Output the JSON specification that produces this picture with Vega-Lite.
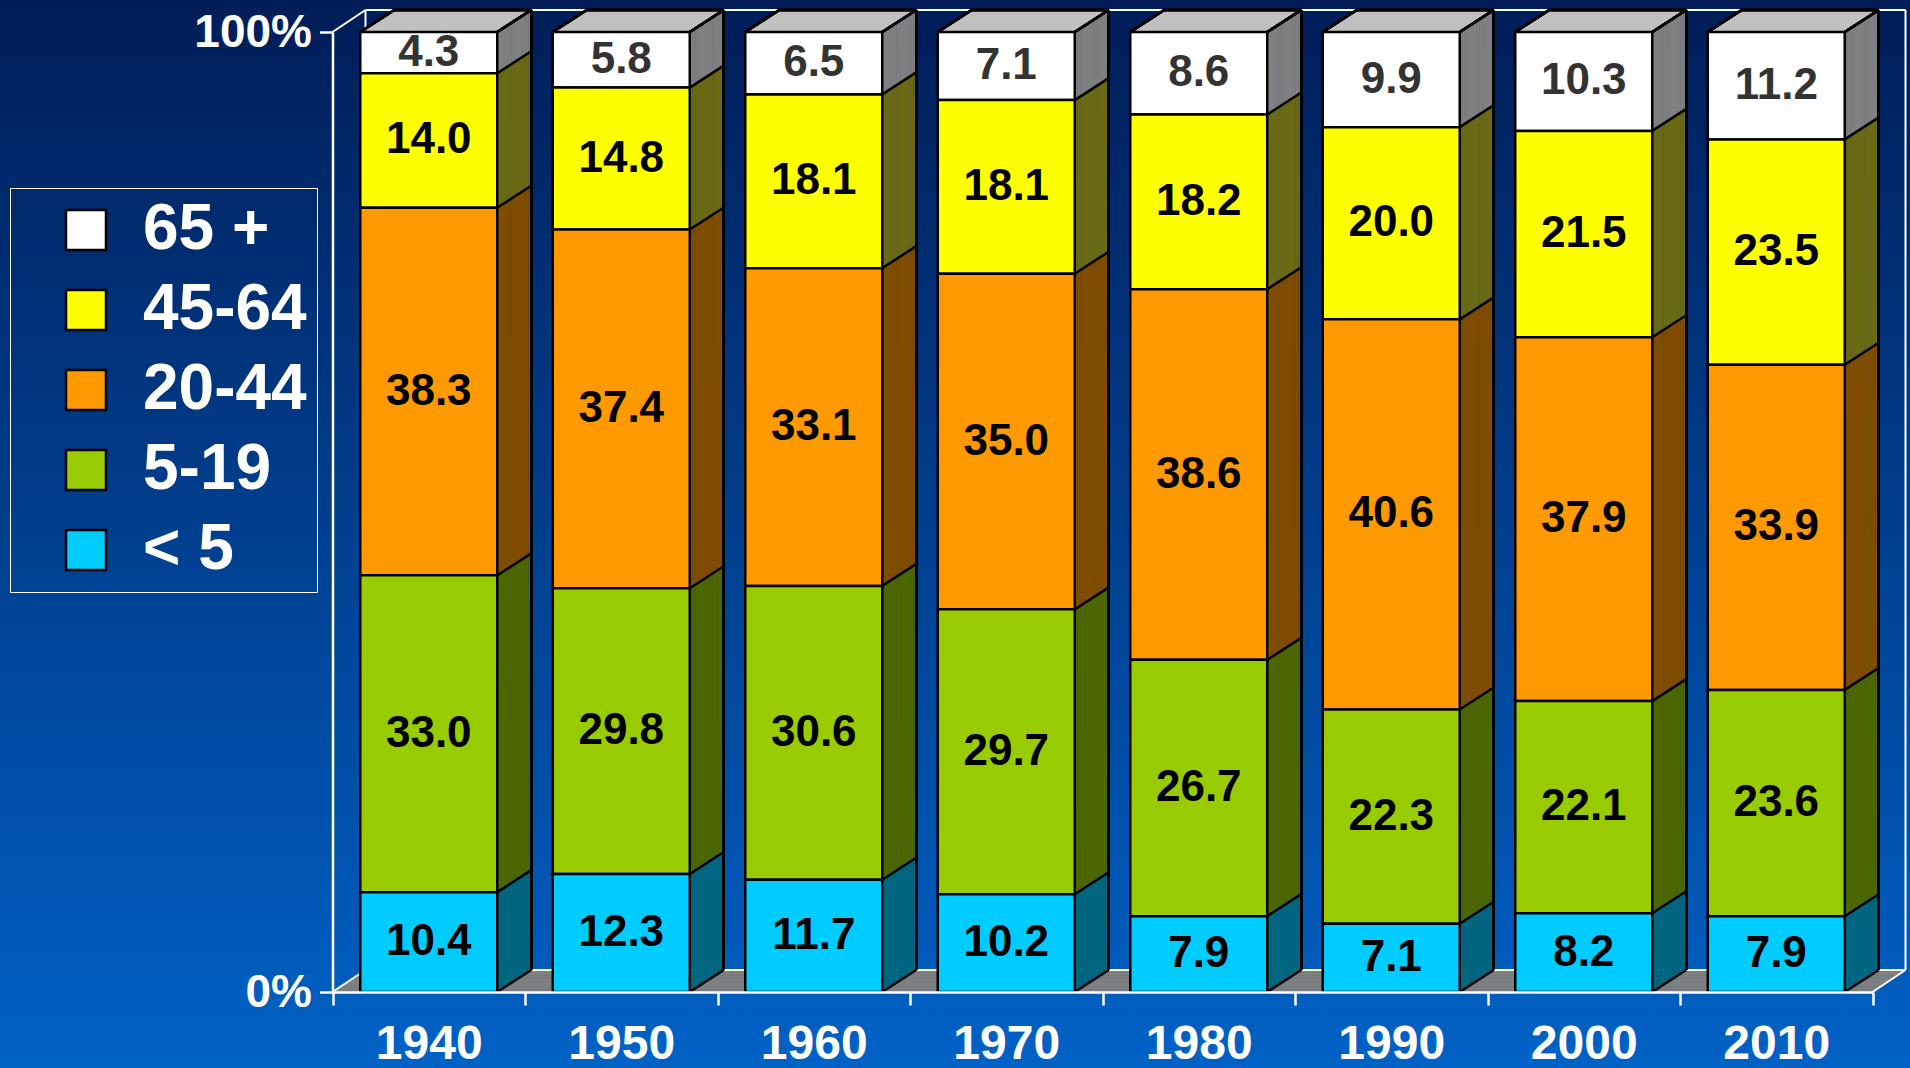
{
  "$schema": "https://vega.github.io/schema/vega-lite/v6.json",
  "width": 1910,
  "height": 1068,
  "padding": 0,
  "autosize": {"type": "none"},
  "config": {"view": {"stroke": null}, "font": "Liberation Sans"},
  "data": {"values": [
    {"year": "1940", "group": "65 +", "age": 65, "pct": 4.3},
    {"year": "1940", "group": "45-64", "age": 45, "pct": 14.0},
    {"year": "1940", "group": "20-44", "age": 20, "pct": 38.3},
    {"year": "1940", "group": "5-19", "age": 5, "pct": 33.0},
    {"year": "1940", "group": "< 5", "age": 0, "pct": 10.4},
    {"year": "1950", "group": "65 +", "age": 65, "pct": 5.8},
    {"year": "1950", "group": "45-64", "age": 45, "pct": 14.8},
    {"year": "1950", "group": "20-44", "age": 20, "pct": 37.4},
    {"year": "1950", "group": "5-19", "age": 5, "pct": 29.8},
    {"year": "1950", "group": "< 5", "age": 0, "pct": 12.3},
    {"year": "1960", "group": "65 +", "age": 65, "pct": 6.5},
    {"year": "1960", "group": "45-64", "age": 45, "pct": 18.1},
    {"year": "1960", "group": "20-44", "age": 20, "pct": 33.1},
    {"year": "1960", "group": "5-19", "age": 5, "pct": 30.6},
    {"year": "1960", "group": "< 5", "age": 0, "pct": 11.7},
    {"year": "1970", "group": "65 +", "age": 65, "pct": 7.1},
    {"year": "1970", "group": "45-64", "age": 45, "pct": 18.1},
    {"year": "1970", "group": "20-44", "age": 20, "pct": 35.0},
    {"year": "1970", "group": "5-19", "age": 5, "pct": 29.7},
    {"year": "1970", "group": "< 5", "age": 0, "pct": 10.2},
    {"year": "1980", "group": "65 +", "age": 65, "pct": 8.6},
    {"year": "1980", "group": "45-64", "age": 45, "pct": 18.2},
    {"year": "1980", "group": "20-44", "age": 20, "pct": 38.6},
    {"year": "1980", "group": "5-19", "age": 5, "pct": 26.7},
    {"year": "1980", "group": "< 5", "age": 0, "pct": 7.9},
    {"year": "1990", "group": "65 +", "age": 65, "pct": 9.9},
    {"year": "1990", "group": "45-64", "age": 45, "pct": 20.0},
    {"year": "1990", "group": "20-44", "age": 20, "pct": 40.6},
    {"year": "1990", "group": "5-19", "age": 5, "pct": 22.3},
    {"year": "1990", "group": "< 5", "age": 0, "pct": 7.1},
    {"year": "2000", "group": "65 +", "age": 65, "pct": 10.3},
    {"year": "2000", "group": "45-64", "age": 45, "pct": 21.5},
    {"year": "2000", "group": "20-44", "age": 20, "pct": 37.9},
    {"year": "2000", "group": "5-19", "age": 5, "pct": 22.1},
    {"year": "2000", "group": "< 5", "age": 0, "pct": 8.2},
    {"year": "2010", "group": "65 +", "age": 65, "pct": 11.2},
    {"year": "2010", "group": "45-64", "age": 45, "pct": 23.5},
    {"year": "2010", "group": "20-44", "age": 20, "pct": 33.9},
    {"year": "2010", "group": "5-19", "age": 5, "pct": 23.6},
    {"year": "2010", "group": "< 5", "age": 0, "pct": 7.9}
  ]},
  "layer": [
    {
      "data": {"values": [{}]},
      "mark": {"type": "rect", "color": {"gradient": "linear", "x1": 0, "y1": 0, "x2": 0, "y2": 1, "stops": [{"offset": 0, "color": "#001D58"}, {"offset": 1, "color": "#0062C6"}]}},
      "encoding": {}
    },
    {
      "data": {"values": [{}]},
      "layer": [
        {"mark": {"type": "rule", "strokeWidth": 3, "color": "#808080", "xOffset": -94.25, "x2Offset": 98.25, "yOffset": -1.375}, "encoding": {"x": {"datum": "1940", "type": "nominal"}, "x2": {"datum": "2010"}, "y": {"datum": 0, "type": "quantitative"}}},
        {"mark": {"type": "rule", "strokeWidth": 3, "color": "#808080", "xOffset": -90.25, "x2Offset": 102.25, "yOffset": -4.125}, "encoding": {"x": {"datum": "1940", "type": "nominal"}, "x2": {"datum": "2010"}, "y": {"datum": 0, "type": "quantitative"}}},
        {"mark": {"type": "rule", "strokeWidth": 3, "color": "#808080", "xOffset": -86.25, "x2Offset": 106.25, "yOffset": -6.875}, "encoding": {"x": {"datum": "1940", "type": "nominal"}, "x2": {"datum": "2010"}, "y": {"datum": 0, "type": "quantitative"}}},
        {"mark": {"type": "rule", "strokeWidth": 3, "color": "#808080", "xOffset": -82.25, "x2Offset": 110.25, "yOffset": -9.625}, "encoding": {"x": {"datum": "1940", "type": "nominal"}, "x2": {"datum": "2010"}, "y": {"datum": 0, "type": "quantitative"}}},
        {"mark": {"type": "rule", "strokeWidth": 3, "color": "#808080", "xOffset": -78.25, "x2Offset": 114.25, "yOffset": -12.375}, "encoding": {"x": {"datum": "1940", "type": "nominal"}, "x2": {"datum": "2010"}, "y": {"datum": 0, "type": "quantitative"}}},
        {"mark": {"type": "rule", "strokeWidth": 3, "color": "#808080", "xOffset": -74.25, "x2Offset": 118.25, "yOffset": -15.125}, "encoding": {"x": {"datum": "1940", "type": "nominal"}, "x2": {"datum": "2010"}, "y": {"datum": 0, "type": "quantitative"}}},
        {"mark": {"type": "rule", "strokeWidth": 3, "color": "#808080", "xOffset": -70.25, "x2Offset": 122.25, "yOffset": -17.875}, "encoding": {"x": {"datum": "1940", "type": "nominal"}, "x2": {"datum": "2010"}, "y": {"datum": 0, "type": "quantitative"}}},
        {"mark": {"type": "rule", "strokeWidth": 3, "color": "#808080", "xOffset": -66.25, "x2Offset": 126.25, "yOffset": -20.625}, "encoding": {"x": {"datum": "1940", "type": "nominal"}, "x2": {"datum": "2010"}, "y": {"datum": 0, "type": "quantitative"}}},
        {"mark": {"type": "rule", "strokeWidth": 2, "color": "white", "xOffset": -63.25, "x2Offset": 129.25, "yOffset": -22}, "encoding": {"x": {"datum": "1940", "type": "nominal"}, "x2": {"datum": "2010"}, "y": {"datum": 1, "type": "quantitative"}}},
        {"mark": {"type": "rule", "strokeWidth": 2, "color": "white", "xOffset": -63.25, "x2Offset": 129.25, "yOffset": -22}, "encoding": {"x": {"datum": "1940", "type": "nominal"}, "x2": {"datum": "2010"}, "y": {"datum": 0, "type": "quantitative"}}},
        {"mark": {"type": "rule", "strokeWidth": 2, "color": "white", "xOffset": 129.25, "yOffset": -22, "y2Offset": -22}, "encoding": {"x": {"datum": "2010", "type": "nominal"}, "y": {"datum": 0, "type": "quantitative"}, "y2": {"datum": 1}}},
        {"mark": {"type": "rule", "strokeWidth": 2, "color": "white", "xOffset": -63.25, "yOffset": -22, "y2Offset": -22}, "encoding": {"x": {"datum": "1940", "type": "nominal"}, "y": {"datum": 0, "type": "quantitative"}, "y2": {"datum": 1}}},
        {"mark": {"type": "rule", "strokeWidth": 2, "color": "white", "xOffset": -96.25, "x2Offset": -63.25, "y2Offset": -22}, "encoding": {"x": {"datum": "1940", "type": "nominal"}, "x2": {"datum": "1940"}, "y": {"datum": 1, "type": "quantitative"}, "y2": {"datum": 1}}},
        {"mark": {"type": "rule", "strokeWidth": 2, "color": "white", "xOffset": -96.25, "x2Offset": -63.25, "y2Offset": -22}, "encoding": {"x": {"datum": "1940", "type": "nominal"}, "x2": {"datum": "1940"}, "y": {"datum": 0, "type": "quantitative"}, "y2": {"datum": 0}}},
        {"mark": {"type": "rule", "strokeWidth": 2, "color": "white", "xOffset": 96.25, "x2Offset": 129.25, "y2Offset": -22}, "encoding": {"x": {"datum": "2010", "type": "nominal"}, "x2": {"datum": "2010"}, "y": {"datum": 0, "type": "quantitative"}, "y2": {"datum": 0}}}
      ]
    },
    {
      "transform": [{"stack": "pct", "groupby": ["year"], "sort": [{"field": "age", "order": "ascending"}], "offset": "normalize", "as": ["s0", "s1"]}],
      "encoding": {
        "x": {"field": "year", "type": "nominal"},
        "y": {"field": "s0", "type": "quantitative"},
        "y2": {"field": "s1"}
      },
      "layer": [
        {"mark": {"type": "rule", "strokeWidth": 3.2, "xOffset": 69.92, "yOffset": -0.92, "y2Offset": -0.92}, "encoding": {"stroke": {"field": "age", "type": "nominal", "scale": {"domain": [65, 45, 20, 5, 0], "range": ["#808080", "#6A6A14", "#804C00", "#4C6600", "#006680"]}, "legend": null}}},
        {"mark": {"type": "rule", "strokeWidth": 3.2, "xOffset": 72.75, "yOffset": -2.75, "y2Offset": -2.75}, "encoding": {"stroke": {"field": "age", "type": "nominal", "legend": null}}},
        {"mark": {"type": "rule", "strokeWidth": 3.2, "xOffset": 75.58, "yOffset": -4.58, "y2Offset": -4.58}, "encoding": {"stroke": {"field": "age", "type": "nominal", "legend": null}}},
        {"mark": {"type": "rule", "strokeWidth": 3.2, "xOffset": 78.42, "yOffset": -6.42, "y2Offset": -6.42}, "encoding": {"stroke": {"field": "age", "type": "nominal", "legend": null}}},
        {"mark": {"type": "rule", "strokeWidth": 3.2, "xOffset": 81.25, "yOffset": -8.25, "y2Offset": -8.25}, "encoding": {"stroke": {"field": "age", "type": "nominal", "legend": null}}},
        {"mark": {"type": "rule", "strokeWidth": 3.2, "xOffset": 84.08, "yOffset": -10.08, "y2Offset": -10.08}, "encoding": {"stroke": {"field": "age", "type": "nominal", "legend": null}}},
        {"mark": {"type": "rule", "strokeWidth": 3.2, "xOffset": 86.92, "yOffset": -11.92, "y2Offset": -11.92}, "encoding": {"stroke": {"field": "age", "type": "nominal", "legend": null}}},
        {"mark": {"type": "rule", "strokeWidth": 3.2, "xOffset": 89.75, "yOffset": -13.75, "y2Offset": -13.75}, "encoding": {"stroke": {"field": "age", "type": "nominal", "legend": null}}},
        {"mark": {"type": "rule", "strokeWidth": 3.2, "xOffset": 92.58, "yOffset": -15.58, "y2Offset": -15.58}, "encoding": {"stroke": {"field": "age", "type": "nominal", "legend": null}}},
        {"mark": {"type": "rule", "strokeWidth": 3.2, "xOffset": 95.42, "yOffset": -17.42, "y2Offset": -17.42}, "encoding": {"stroke": {"field": "age", "type": "nominal", "legend": null}}},
        {"mark": {"type": "rule", "strokeWidth": 3.2, "xOffset": 98.25, "yOffset": -19.25, "y2Offset": -19.25}, "encoding": {"stroke": {"field": "age", "type": "nominal", "legend": null}}},
        {"mark": {"type": "rule", "strokeWidth": 3.2, "xOffset": 101.08, "yOffset": -21.08, "y2Offset": -21.08}, "encoding": {"stroke": {"field": "age", "type": "nominal", "legend": null}}},
        {"mark": {"type": "rule", "strokeWidth": 3, "color": "#C0C0C0", "xOffset": -66.375, "x2Offset": 70.625, "yOffset": -1.375}, "encoding": {"x2": {"field": "year"}, "y": {"datum": 1, "type": "quantitative"}, "y2": null}},
        {"mark": {"type": "rule", "strokeWidth": 3, "color": "#C0C0C0", "xOffset": -62.125, "x2Offset": 74.875, "yOffset": -4.125}, "encoding": {"x2": {"field": "year"}, "y": {"datum": 1, "type": "quantitative"}, "y2": null}},
        {"mark": {"type": "rule", "strokeWidth": 3, "color": "#C0C0C0", "xOffset": -57.875, "x2Offset": 79.125, "yOffset": -6.875}, "encoding": {"x2": {"field": "year"}, "y": {"datum": 1, "type": "quantitative"}, "y2": null}},
        {"mark": {"type": "rule", "strokeWidth": 3, "color": "#C0C0C0", "xOffset": -53.625, "x2Offset": 83.375, "yOffset": -9.625}, "encoding": {"x2": {"field": "year"}, "y": {"datum": 1, "type": "quantitative"}, "y2": null}},
        {"mark": {"type": "rule", "strokeWidth": 3, "color": "#C0C0C0", "xOffset": -49.375, "x2Offset": 87.625, "yOffset": -12.375}, "encoding": {"x2": {"field": "year"}, "y": {"datum": 1, "type": "quantitative"}, "y2": null}},
        {"mark": {"type": "rule", "strokeWidth": 3, "color": "#C0C0C0", "xOffset": -45.125, "x2Offset": 91.875, "yOffset": -15.125}, "encoding": {"x2": {"field": "year"}, "y": {"datum": 1, "type": "quantitative"}, "y2": null}},
        {"mark": {"type": "rule", "strokeWidth": 3, "color": "#C0C0C0", "xOffset": -40.875, "x2Offset": 96.125, "yOffset": -17.875}, "encoding": {"x2": {"field": "year"}, "y": {"datum": 1, "type": "quantitative"}, "y2": null}},
        {"mark": {"type": "rule", "strokeWidth": 3, "color": "#C0C0C0", "xOffset": -36.625, "x2Offset": 100.375, "yOffset": -20.625}, "encoding": {"x2": {"field": "year"}, "y": {"datum": 1, "type": "quantitative"}, "y2": null}},
        {"mark": {"type": "rule", "strokeWidth": 2.5, "color": "black", "xOffset": 68.5, "x2Offset": 102.5, "y2Offset": -22}, "encoding": {"x2": {"field": "year"}, "y2": {"field": "s0"}}},
        {"mark": {"type": "rule", "strokeWidth": 2.5, "color": "black", "xOffset": 68.5, "x2Offset": 102.5, "y2Offset": -22}, "encoding": {"x2": {"field": "year"}, "y": {"datum": 1, "type": "quantitative"}, "y2": {"datum": 1}}},
        {"mark": {"type": "rule", "strokeWidth": 2.5, "color": "black", "xOffset": 102.5, "yOffset": -22, "y2Offset": -22}, "encoding": {"y": {"datum": 0, "type": "quantitative"}, "y2": {"datum": 1}}},
        {"mark": {"type": "rule", "strokeWidth": 2.5, "color": "black", "xOffset": -34.5, "x2Offset": 102.5, "yOffset": -22}, "encoding": {"x2": {"field": "year"}, "y": {"datum": 1, "type": "quantitative"}, "y2": null}},
        {"mark": {"type": "rule", "strokeWidth": 2.5, "color": "black", "xOffset": -68.5, "x2Offset": -34.5, "y2Offset": -22}, "encoding": {"x2": {"field": "year"}, "y": {"datum": 1, "type": "quantitative"}, "y2": {"datum": 1}}},
        {
          "mark": {"type": "bar", "width": 137, "stroke": "black", "strokeWidth": 2.5, "opacity": 1},
          "encoding": {
            "x": {"field": "year", "type": "nominal", "title": null,
              "scale": {"range": [332.5, 1872.5], "paddingInner": 0, "paddingOuter": 0},
              "axis": {"orient": "bottom", "offset": -76, "zindex": 2, "tickBand": "extent", "domainColor": "white", "domainWidth": 2.5, "tickColor": "white", "tickWidth": 2.5, "tickSize": 13, "labelColor": "white", "labelFont": "Liberation Sans", "labelFontWeight": "bold", "labelFontSize": 48, "labelPadding": 15, "labelAngle": 0, "labelAlign": "center", "labelBaseline": "top", "labelOffset": 0, "labelBound": false, "labelFlush": false, "title": null, "grid": false}},
            "y": {"field": "s0", "type": "quantitative", "title": null,
              "scale": {"domain": [0, 1], "range": [992, 32], "nice": false, "zero": false},
              "axis": {"values": [0, 1], "format": ".0%", "offset": -332.5, "zindex": 2, "title": null, "grid": false, "domainColor": "white", "domainWidth": 2.5, "tickColor": "white", "tickWidth": 2.5, "tickSize": 13, "labelColor": "white", "labelFont": "Liberation Sans", "labelFontWeight": "bold", "labelFontSize": 46, "labelPadding": 8, "labelFlush": false, "labelOverlap": false}},
            "y2": {"field": "s1"},
            "color": {"field": "group", "type": "nominal",
              "scale": {"domain": ["65 +", "45-64", "20-44", "5-19", "< 5"], "range": ["#FFFFFF", "#FFFF00", "#FF9900", "#99CC00", "#00CCFF"]},
              "legend": {"orient": "none", "legendX": 10, "legendY": 188, "zindex": 2, "title": null, "direction": "vertical", "symbolType": "square", "symbolSize": 1600, "symbolStrokeColor": "black", "symbolStrokeWidth": 2.5, "symbolOpacity": 1, "symbolOffset": 34, "labelFont": "Liberation Sans", "labelFontWeight": "bold", "labelFontSize": 64, "labelColor": "white", "labelOffset": 25, "labelBaseline": "middle", "padding": 10, "rowPadding": 16, "strokeColor": "white", "labelLimit": 400}}
          }
        }
      ]
    },
    {
      "mark": {"type": "text", "font": "Liberation Sans", "fontWeight": "bold", "fontSize": 44, "baseline": "middle", "align": "center"},
      "encoding": {
        "x": {"field": "year", "type": "nominal"},
        "y": {"field": "pct", "type": "quantitative", "stack": "normalize", "bandPosition": 0.5},
        "detail": {"field": "group", "type": "nominal"},
        "order": {"field": "age", "type": "quantitative", "sort": "ascending"},
        "text": {"field": "pct", "type": "quantitative", "format": ".1f"},
        "color": {"condition": {"test": "datum.group === '65 +'", "value": "#333333"}, "value": "#000000"}
      }
    }
  ]
}
